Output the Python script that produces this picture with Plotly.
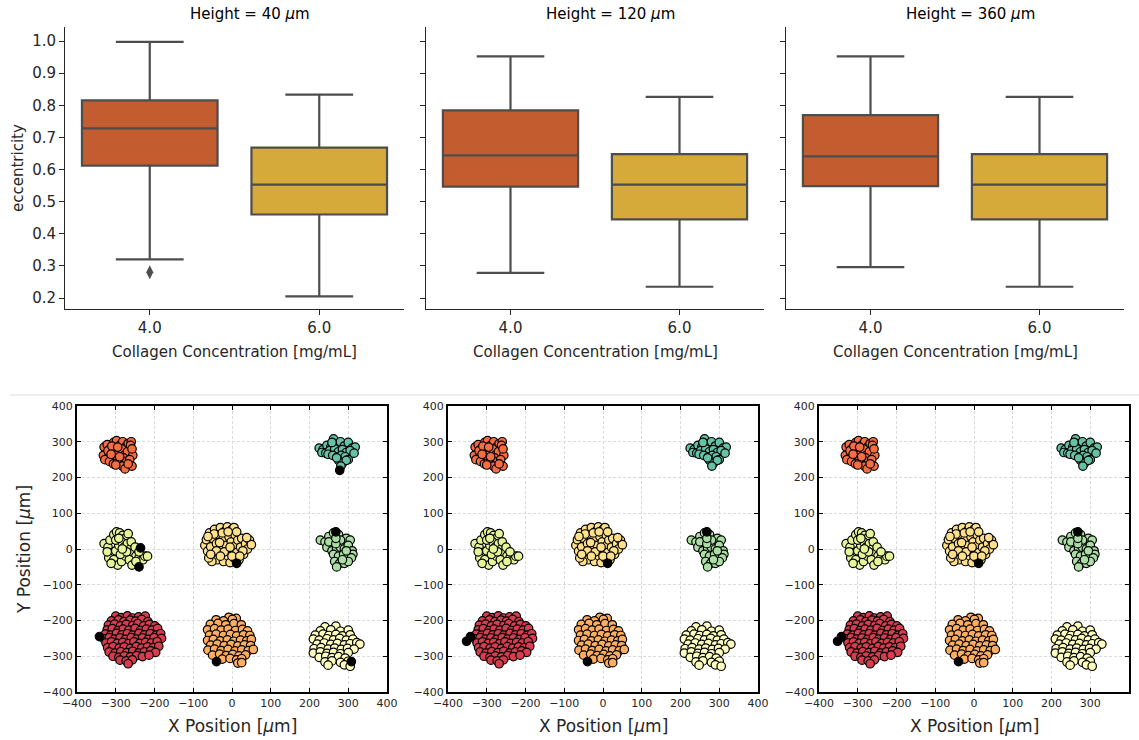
import plotly.graph_objects as go

W, H = 1139, 740

# ---------------- Box plot data (eccentricity) ----------------
heights = ["40", "120", "360"]
concentrations = ["4.0", "6.0"]
q1_vals = [[0.612, 0.460], [0.547, 0.445], [0.548, 0.445]]
median_vals = [[0.728, 0.553], [0.644, 0.553], [0.641, 0.553]]
q3_vals = [[0.815, 0.668], [0.784, 0.648], [0.769, 0.648]]
lower_vals = [[0.320, 0.205], [0.278, 0.235], [0.296, 0.235]]
upper_vals = [[0.997, 0.833], [0.952, 0.826], [0.952, 0.826]]
outliers = [[0.280], [], []]  # only for 4.0 at 40 um
box_colors = ["#C35D30", "#D5A93A"]
eccentricity_ticks = [0.2, 0.3, 0.4, 0.5, 0.6, 0.7, 0.8, 0.9, 1.0]

# ---------------- Scatter cluster data (positions in um) ----------------
cluster_top_left = [
    (-330, 285), (-322, 292), (-315, 280), (-305, 298), (-298, 303), (-290, 290), (-282, 300),
    (-275, 285), (-268, 295), (-260, 300), (-332, 262), (-318, 270), (-308, 258), (-300, 275),
    (-292, 268), (-285, 280), (-278, 262), (-270, 272), (-262, 290), (-256, 262), (-328, 250),
    (-316, 245), (-306, 238), (-296, 252), (-288, 240), (-280, 255), (-272, 245), (-264, 250),
    (-258, 232), (-320, 275), (-310, 288), (-300, 262), (-290, 258), (-283, 232), (-276, 224),
    (-268, 238), (-300, 235), (-312, 265), (-295, 285), (-258, 280),
]
cluster_top_right = [
    (225, 282), (235, 278), (245, 290), (255, 285), (262, 308), (270, 295), (280, 300),
    (290, 288), (300, 298), (310, 282), (318, 285), (232, 270), (242, 268), (252, 275),
    (265, 280), (275, 272), (285, 278), (295, 270), (305, 275), (315, 268), (248, 265),
    (260, 262), (272, 258), (282, 262), (292, 258), (300, 250), (275, 248), (285, 240),
    (295, 248), (281, 232), (270, 255), (258, 298),
]
cluster_mid_left = [
    (-330, 15), (-320, 5), (-315, 25), (-305, 40), (-298, 48), (-290, 45), (-282, 38),
    (-275, 30), (-268, 43), (-310, -10), (-300, -5), (-292, 10), (-285, 20), (-278, 5),
    (-270, 15), (-262, 0), (-255, -10), (-248, -20), (-240, -25), (-230, -30), (-225, -20),
    (-218, -20), (-318, -25), (-305, -30), (-295, -45), (-285, -35), (-275, -20), (-265, -30),
    (-258, -45), (-248, -35), (-300, 25), (-288, -15), (-272, -8), (-260, 20), (-250, 5),
    (-240, -8), (-312, -40), (-283, 0), (-322, -8), (-292, 30),
]
cluster_center = [
    (-70, 10), (-66, 26), (-63, -6), (-58, 45), (-55, 6), (-50, 30), (-48, -20), (-45, 55),
    (-40, 15), (-38, -30), (-35, 40), (-30, 60), (-28, 0), (-25, 25), (-22, -35), (-18, 50),
    (-15, 10), (-12, 62), (-10, -20), (-8, 35), (-5, -38), (-2, 20), (0, 55), (2, 0),
    (5, -25), (8, 40), (10, 10), (12, -10), (15, 25), (18, -30), (22, 5), (25, 30),
    (30, -15), (35, 15), (40, 0), (45, 25), (50, 12), (-52, -35), (-60, -25), (-40, -5),
    (-20, -8), (-5, 5), (0, -20), (-32, 18), (28, -5), (-46, 42), (5, 60), (-62, 35),
    (-55, -15), (-25, 45), (12, 48), (-10, 48), (20, -20), (-30, -20), (38, 32),
]
cluster_mid_right = [
    (228, 25), (240, 20), (250, 35), (255, 10), (262, 45), (275, 40), (285, 20),
    (295, 30), (305, 25), (245, 5), (258, -5), (270, 0), (280, 5), (290, 0), (300, 10),
    (310, -5), (312, -15), (262, -15), (275, -20), (288, -15), (298, -25), (308, -25),
    (265, -35), (278, -40), (290, -40), (300, -35), (270, -50), (285, -30), (250, 20),
    (280, 25), (295, -5), (268, 15), (268, 30),
]
cluster_bottom_left = [
    (-300, -188), (-286, -192), (-270, -187), (-257, -193), (-241, -190), (-224, -188),
    (-311, -201), (-293, -198), (-279, -203), (-263, -199), (-249, -202), (-233, -197), (-217, -203),
    (-319, -213), (-303, -210), (-288, -215), (-273, -211), (-256, -214), (-243, -209), (-228, -215),
    (-213, -211), (-199, -215), (-322, -226), (-309, -223), (-294, -228), (-281, -224), (-266, -227),
    (-250, -222), (-236, -228), (-221, -224), (-206, -227), (-192, -222), (-327, -238), (-313, -241),
    (-298, -236), (-284, -240), (-270, -237), (-256, -241), (-240, -236), (-226, -240), (-211, -237),
    (-196, -241), (-184, -237), (-330, -251), (-317, -248), (-303, -252), (-289, -249), (-275, -253),
    (-260, -248), (-246, -252), (-231, -249), (-216, -253), (-201, -248), (-182, -250), (-325, -263),
    (-311, -260), (-296, -264), (-282, -261), (-267, -265), (-253, -260), (-238, -264), (-223, -261),
    (-208, -263), (-193, -259), (-321, -276), (-307, -273), (-291, -277), (-278, -274), (-262, -278),
    (-247, -273), (-233, -277), (-218, -274), (-203, -276), (-189, -272), (-317, -288), (-302, -291),
    (-287, -287), (-271, -290), (-256, -286), (-241, -291), (-226, -288), (-210, -285), (-197, -289),
    (-307, -300), (-292, -303), (-278, -299), (-262, -302), (-246, -298), (-231, -301), (-214, -297),
    (-289, -311), (-273, -313), (-257, -310), (-268, -321),
]
cluster_bottom_center = [
    (-8, -191), (11, -194), (-41, -198), (-22, -201), (1, -197), (-56, -211), (-36, -208),
    (-16, -212), (5, -209), (24, -212), (-63, -226), (-45, -223), (-28, -227), (-10, -224),
    (9, -228), (27, -225), (40, -229), (-58, -241), (-41, -238), (-22, -242), (-4, -239),
    (12, -243), (30, -240), (46, -242), (-63, -256), (-48, -253), (-30, -257), (-12, -254),
    (5, -258), (22, -255), (38, -257), (50, -253), (-55, -269), (-38, -266), (-20, -270),
    (-2, -267), (15, -271), (32, -268), (48, -270), (-62, -283), (-45, -280), (-28, -284),
    (-10, -281), (8, -285), (25, -282), (42, -284), (55, -281), (-50, -297), (-32, -294),
    (-15, -298), (2, -295), (18, -299), (35, -296), (-25, -308), (-5, -306), (12, -310),
    (25, -307), (15, -319), (25, -318),
]
cluster_bottom_right = [
    (240, -218), (268, -216), (228, -229), (255, -226), (280, -230), (300, -227), (215, -241),
    (235, -238), (250, -242), (268, -239), (285, -243), (305, -240), (210, -252), (225, -255),
    (245, -251), (262, -254), (278, -250), (295, -255), (312, -252), (220, -266), (238, -263),
    (255, -267), (272, -264), (290, -268), (305, -265), (322, -262), (330, -266), (212, -279),
    (230, -276), (248, -280), (265, -277), (282, -281), (298, -278), (315, -280), (210, -291),
    (228, -288), (245, -292), (262, -289), (280, -293), (300, -290), (225, -303), (242, -300),
    (258, -304), (275, -301), (292, -305), (240, -316), (258, -313), (280, -317), (300, -314),
    (248, -325), (290, -324), (305, -328),
]
clusters = [cluster_bottom_left, cluster_top_left, cluster_bottom_center, cluster_center,
            cluster_bottom_right, cluster_mid_left, cluster_mid_right, cluster_top_right]
cluster_colors = ["#D53E4F", "#F46D43", "#FDAE61", "#FEE08B",
                  "#FFFFBF", "#E6F598", "#ABDDA4", "#66C2A5"]
unassigned_points = [
    [(-236, 3), (-240, -50), (12, -40), (278, 220), (-342, -245), (-40, -315), (308, -315), (268, 48)],
    [(12, -40), (-352, -258), (-342, -245), (-40, -315), (268, 48)],
    [(12, -40), (-352, -258), (-342, -245), (-40, -315), (268, 48)],
]
position_ticks = list(range(-400, 401, 100))

# ---------------- Layout geometry (pixels) ----------------
FONT = "DejaVu Sans"
TXT = "#262626"
top_x = [(65, 404), (426, 764), (786, 1124)]
top_y = (27, 309)
bot_x = [(77, 387), (448, 758), (819, 1129)]
bot_y = (406, 692)


def fx(p):
    return p / W


def fy(p):
    return 1 - p / H


fig = go.Figure()
layout = dict(
    template="none",
    width=W, height=H, margin=dict(l=0, r=0, t=0, b=0, pad=0),
    paper_bgcolor="white", plot_bgcolor="white", showlegend=False,
    font=dict(family=FONT, color=TXT),
)
annotations = []

for i in range(3):
    n = i + 1
    xa = "x" if n == 1 else f"x{n}"
    ya = "y" if n == 1 else f"y{n}"
    for j in range(2):
        fig.add_trace(go.Box(
            x=[j], q1=[q1_vals[i][j]], median=[median_vals[i][j]], q3=[q3_vals[i][j]],
            lowerfence=[lower_vals[i][j]], upperfence=[upper_vals[i][j]],
            width=0.8, whiskerwidth=0.5, fillcolor=box_colors[j],
            line=dict(color="#4d4d4d", width=2.2), boxpoints=False,
            xaxis=xa, yaxis=ya, hoverinfo="skip",
        ))
    if outliers[i]:
        fig.add_trace(go.Scatter(
            x=[0] * len(outliers[i]), y=outliers[i], mode="markers",
            marker=dict(symbol="diamond-tall", size=10, color="#4d4d4d"),
            xaxis=xa, yaxis=ya, hoverinfo="skip",
        ))
    xk = "xaxis" if n == 1 else f"xaxis{n}"
    yk = "yaxis" if n == 1 else f"yaxis{n}"
    layout[xk] = dict(
        domain=[fx(top_x[i][0]), fx(top_x[i][1])], anchor=ya, range=[-0.5, 1.5],
        tickvals=[0, 1], ticktext=concentrations, showline=True, linecolor=TXT, linewidth=1,
        ticks="outside", ticklen=5, tickcolor=TXT, showgrid=False, zeroline=False,
        tickfont=dict(size=15, color=TXT), automargin=False,
    )
    layout[yk] = dict(
        domain=[fy(top_y[1]), fy(top_y[0])], anchor=xa, range=[0.1658, 1.0436],
        tickvals=eccentricity_ticks, ticktext=[f"{v:.1f}" for v in eccentricity_ticks],
        showticklabels=(i == 0), showline=True, linecolor=TXT, linewidth=1,
        ticks="outside", ticklen=5, tickcolor=TXT, showgrid=False, zeroline=False,
        tickfont=dict(size=15, color=TXT), automargin=False,
    )
    cx = (top_x[i][0] + top_x[i][1]) / 2
    annotations.append(dict(text=f"Height = {heights[i]} <i>μ</i>m", x=fx(cx + 15), y=fy(14),
                            xref="paper", yref="paper", showarrow=False,
                            xanchor="center", yanchor="middle", font=dict(size=15, color="black")))
    annotations.append(dict(text="Collagen Concentration [mg/mL]", x=fx(cx), y=fy(352),
                            xref="paper", yref="paper", showarrow=False,
                            xanchor="center", yanchor="middle", font=dict(size=15, color=TXT)))

annotations.append(dict(text="eccentricity", x=fx(18), y=fy(168), xref="paper", yref="paper",
                        showarrow=False, textangle=-90, xanchor="center", yanchor="middle",
                        font=dict(size=15, color=TXT)))

for i in range(3):
    n = i + 4
    xa, ya = f"x{n}", f"y{n}"
    for pts, col in zip(clusters, cluster_colors):
        fig.add_trace(go.Scatter(
            x=[p[0] for p in pts], y=[p[1] for p in pts], mode="markers",
            marker=dict(size=8.5, color=col, line=dict(color="black", width=1.2)),
            xaxis=xa, yaxis=ya, hoverinfo="skip",
        ))
    un = unassigned_points[i]
    fig.add_trace(go.Scatter(
        x=[p[0] for p in un], y=[p[1] for p in un], mode="markers",
        marker=dict(size=8.5, color="black", line=dict(color="black", width=1.2)),
        xaxis=xa, yaxis=ya, hoverinfo="skip",
    ))
    common = dict(
        range=[-400, 400], tickvals=position_ticks, showline=True, linecolor="black",
        linewidth=2, mirror="allticks", ticks="inside", ticklen=4, tickcolor="black",
        showgrid=True, gridcolor="#dadada", griddash="3px,2px", gridwidth=0.8, zeroline=False,
        tickfont=dict(size=11, color=TXT), automargin=False,
    )
    layout[f"xaxis{n}"] = dict(domain=[fx(bot_x[i][0]), fx(bot_x[i][1])], anchor=ya, **common)
    layout[f"yaxis{n}"] = dict(domain=[fy(bot_y[1]), fy(bot_y[0])], anchor=xa, **common)
    cx = (bot_x[i][0] + bot_x[i][1]) / 2
    annotations.append(dict(text="X Position [<i>μ</i>m]", x=fx(cx), y=fy(726),
                            xref="paper", yref="paper", showarrow=False,
                            xanchor="center", yanchor="middle", font=dict(size=17, color=TXT)))

annotations.append(dict(text="Y Position [<i>μ</i>m]", x=fx(24), y=fy(550), xref="paper",
                        yref="paper", showarrow=False, textangle=-90,
                        xanchor="center", yanchor="middle", font=dict(size=17, color=TXT)))

layout["annotations"] = annotations
layout["shapes"] = [dict(type="line", xref="paper", yref="paper", x0=fx(10), x1=1,
                         y0=fy(395), y1=fy(395), line=dict(color="#dcdcdc", width=1))]
fig.update_layout(**layout)
fig.write_html("out.html")
